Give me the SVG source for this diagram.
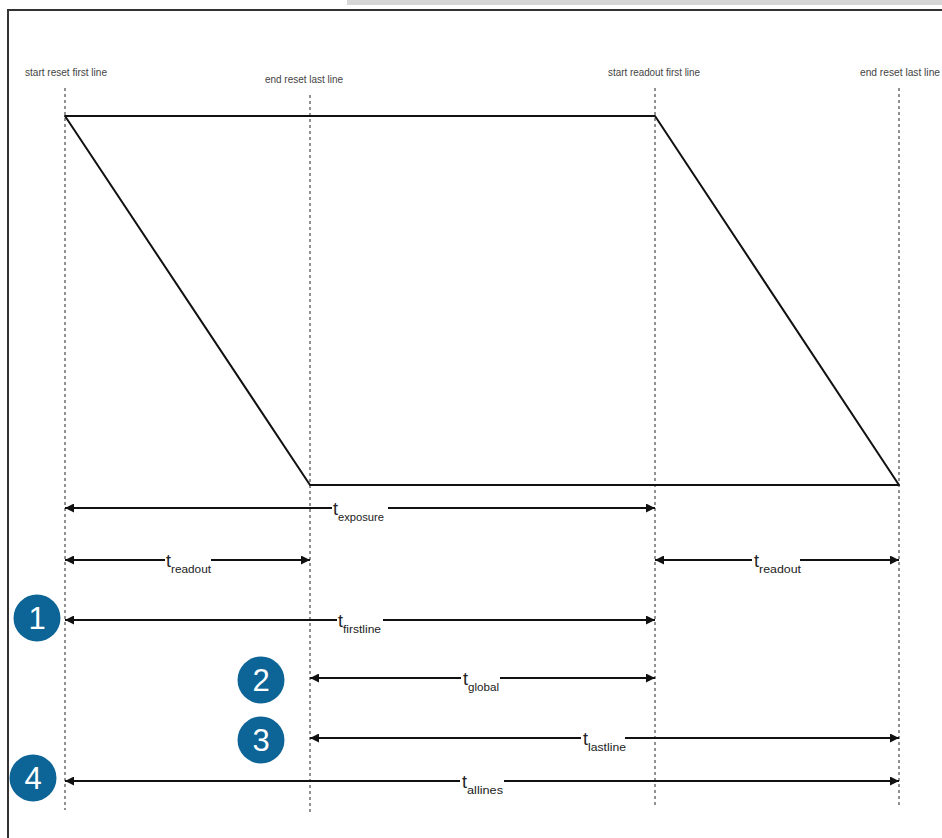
<svg xmlns="http://www.w3.org/2000/svg" width="942" height="838" viewBox="0 0 942 838">
<style>
.lbl{font-family:"Liberation Sans",Arial,sans-serif;font-size:10px;fill:#444}
.t{font-family:"Liberation Sans",Arial,sans-serif;font-size:18px;fill:#222}
.sub{font-family:"Liberation Sans",Arial,sans-serif;font-size:11px;fill:#222}
.dash{stroke:#222;stroke-width:1;stroke-dasharray:3 3;fill:none}
.dim{stroke:#111;stroke-width:2;fill:none}
.badge{fill:#0d6496}
.num{font-family:"Liberation Sans",Arial,sans-serif;font-size:31px;fill:#fff;text-anchor:middle}
</style>
<defs>
<marker id="ah" viewBox="0 0 10 10" refX="10" refY="5" markerWidth="11" markerHeight="9" markerUnits="userSpaceOnUse" orient="auto-start-reverse">
<path d="M0,0 L10,5 L0,10 z" fill="#111"/>
</marker>
</defs>
<rect x="0" y="0" width="942" height="838" fill="#fff"/>
<rect x="347" y="0" width="595" height="5" fill="#d6d6d6"/>
<path d="M8,838 V10 H942" stroke="#333" stroke-width="2" fill="none"/>

<g id="guides">
<line class="dash" x1="65" y1="88" x2="65" y2="810"/>
<line class="dash" x1="310" y1="95" x2="310" y2="812"/>
<line class="dash" x1="655" y1="88" x2="655" y2="806"/>
<line class="dash" x1="899" y1="88" x2="899" y2="806"/>
</g>

<g id="labels">
<text class="lbl" x="25" y="76" textLength="82" lengthAdjust="spacingAndGlyphs">start reset first line</text>
<text class="lbl" x="265" y="83" textLength="78" lengthAdjust="spacingAndGlyphs">end reset last line</text>
<text class="lbl" x="608" y="76" textLength="92" lengthAdjust="spacingAndGlyphs">start readout first line</text>
<text class="lbl" x="860" y="76" textLength="80" lengthAdjust="spacingAndGlyphs">end reset last line</text>
</g>

<g id="shape">
<path d="M65,116 H655 L899,485 H310 Z" stroke="#111" stroke-width="2" fill="none" stroke-linejoin="round"/>
</g>

<g id="connectors">
<line class="dim" x1="332" y1="508" x2="65" y2="508" marker-end="url(#ah)"/>
<line class="dim" x1="388" y1="508" x2="655" y2="508" marker-end="url(#ah)"/>
<line class="dim" x1="165" y1="560" x2="65" y2="560" marker-end="url(#ah)"/>
<line class="dim" x1="211" y1="560" x2="310" y2="560" marker-end="url(#ah)"/>
<line class="dim" x1="752" y1="560" x2="655" y2="560" marker-end="url(#ah)"/>
<line class="dim" x1="800" y1="560" x2="899" y2="560" marker-end="url(#ah)"/>
<line class="dim" x1="337" y1="620" x2="65" y2="620" marker-end="url(#ah)"/>
<line class="dim" x1="383" y1="620" x2="655" y2="620" marker-end="url(#ah)"/>
<line class="dim" x1="461" y1="678" x2="310" y2="678" marker-end="url(#ah)"/>
<line class="dim" x1="500" y1="678" x2="655" y2="678" marker-end="url(#ah)"/>
<line class="dim" x1="581" y1="738" x2="310" y2="738" marker-end="url(#ah)"/>
<line class="dim" x1="625" y1="738" x2="899" y2="738" marker-end="url(#ah)"/>
<line class="dim" x1="460" y1="781" x2="65" y2="781" marker-end="url(#ah)"/>
<line class="dim" x1="504" y1="781" x2="899" y2="781" marker-end="url(#ah)"/>
</g>

<g id="dim-labels">
<text x="333" y="515"><tspan class="t">t</tspan><tspan class="sub" dy="6" textLength="46" lengthAdjust="spacingAndGlyphs">exposure</tspan></text>
<text x="166" y="567"><tspan class="t">t</tspan><tspan class="sub" dy="6" textLength="40" lengthAdjust="spacingAndGlyphs">readout</tspan></text>
<text x="754" y="567"><tspan class="t">t</tspan><tspan class="sub" dy="6" textLength="42" lengthAdjust="spacingAndGlyphs">readout</tspan></text>
<text x="338" y="627"><tspan class="t">t</tspan><tspan class="sub" dy="6" textLength="38" lengthAdjust="spacingAndGlyphs">firstline</tspan></text>
<text x="463" y="685"><tspan class="t">t</tspan><tspan class="sub" dy="6" textLength="31" lengthAdjust="spacingAndGlyphs">global</tspan></text>
<text x="583" y="745"><tspan class="t">t</tspan><tspan class="sub" dy="6" textLength="38" lengthAdjust="spacingAndGlyphs">lastline</tspan></text>
<text x="462" y="788"><tspan class="t">t</tspan><tspan class="sub" dy="6" textLength="36" lengthAdjust="spacingAndGlyphs">allines</tspan></text>
</g>

<g id="badge-1"><circle class="badge" cx="37" cy="618" r="23.5"/><text class="num" x="37" y="629">1</text></g>
<g id="badge-2"><circle class="badge" cx="261" cy="680" r="23.5"/><text class="num" x="261" y="691">2</text></g>
<g id="badge-3"><circle class="badge" cx="261" cy="740" r="23.5"/><text class="num" x="261" y="751">3</text></g>
<g id="badge-4"><circle class="badge" cx="33" cy="778" r="23.5"/><text class="num" x="33" y="789">4</text></g>
</svg>
